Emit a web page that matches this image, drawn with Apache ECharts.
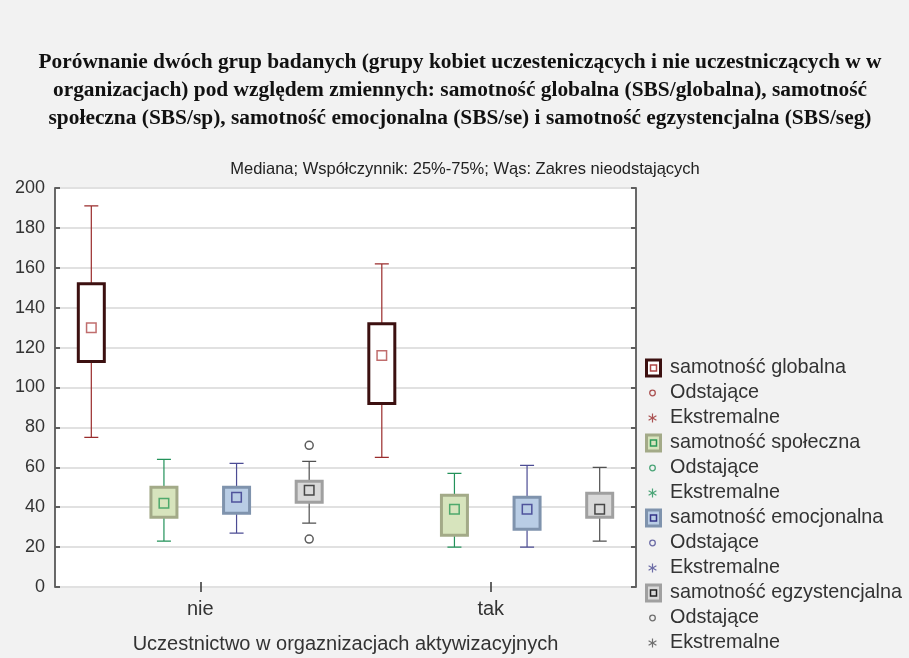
<!DOCTYPE html>
<html>
<head>
<meta charset="utf-8">
<script src="https://cdn.jsdelivr.net/npm/echarts@6/dist/echarts.min.js"></script>
<style>
  html, body { margin: 0; padding: 0; background: #f2f2f2; }
  #chart { width: 909px; height: 658px; }
</style>
</head>
<body>
<div id="chart"></div>
<script>
// ---- data ----
const categories = ['nie', 'tak'];
const varNames = ['samotność globalna', 'samotność społeczna', 'samotność emocjonalna', 'samotność egzystencjalna'];
// [min, Q1, median, Q3, max] for each category
const globalna = [[75, 113, 130, 152, 191], [65, 92, 116, 132, 162]];
const spoleczna = [[23, 35, 42, 50, 64], [20, 26, 39, 46, 57]];
const emocjonalna = [[27, 37, 45, 50, 62], [20, 29, 39, 45, 61]];
const egzystencjalna = [[32, 42.5, 48.5, 53, 63], [23, 35, 39, 47, 60]];
// outliers: [categoryIndex, value] (samotność egzystencjalna)
const outliersEgz = [[0, 71], [0, 24]];
const yTicks = { min: 0, max: 200, interval: 20 };
const titleText = 'Porównanie dwóch grup badanych (grupy kobiet uczesteniczących i nie uczestniczących w w\norganizacjach) pod względem zmiennych: samotność globalna (SBS/globalna), samotność\nspołeczna (SBS/sp), samotność emocjonalna (SBS/se) i samotność egzystencjalna (SBS/seg)';
const subtitleText = 'Mediana; Współczynnik: 25%-75%; Wąs: Zakres nieodstających';
const xName = 'Uczestnictwo w orgaznizacjach aktywizacyjnych';
const outlierLabel = 'Odstające';
const extremeLabel = 'Ekstremalne';

// ---- styles ----
const allStats = [globalna, spoleczna, emocjonalna, egzystencjalna];
const styles = [
  { fill: '#ffffff', border: '#3c1010', whisker: '#9a2c2c', median: '#b04848' },
  { fill: '#d7e4bd', border: '#a3aa88', whisker: '#23925a', median: '#2c9a58' },
  { fill: '#b9cde5', border: '#7f93ad', whisker: '#4c4c94', median: '#343488' },
  { fill: '#d9d9d9', border: '#a0a0a0', whisker: '#505050', median: '#222222' }
];
const nVar = varNames.length;
const slotNames = [];
categories.forEach((c, ci) => varNames.forEach((v, vi) => slotNames.push(c + '-' + vi)));

function svgIcon(inner) {
  return 'image://data:image/svg+xml;charset=utf-8,' + encodeURIComponent(
    '<svg xmlns="http://www.w3.org/2000/svg" width="17" height="20" viewBox="0 0 17 20">' + inner + '</svg>');
}
function boxIcon(s) {
  return svgIcon('<rect x="1.5" y="2" width="14" height="16" fill="' + s.fill + '" stroke="' + s.border + '" stroke-width="3"/>' +
    '<rect x="5.5" y="7" width="6" height="6" fill="none" stroke="' + s.median + '" stroke-width="1.5"/>');
}
function circleIcon(s) {
  return svgIcon('<circle cx="7.5" cy="10" r="2.8" fill="none" stroke="' + s.whisker + '" stroke-width="1.3"/>');
}
function starIcon(s) {
  return svgIcon('<g stroke="' + s.whisker + '" stroke-width="1.2" fill="none">' +
    '<line x1="7.5" y1="5.5" x2="7.5" y2="14.5"/><line x1="3.6" y1="7.7" x2="11.4" y2="12.3"/><line x1="3.6" y1="12.3" x2="11.4" y2="7.7"/></g>');
}

const series = [];
const xAxes = [
  {
    type: 'category', data: categories, gridIndex: 0, position: 'bottom', boundaryGap: true,
    axisLine: { show: false },
    axisTick: { show: true, inside: true, alignWithLabel: true, length: 5, lineStyle: { color: '#333', width: 1.5 } },
    axisLabel: { fontSize: 20, color: '#333', fontFamily: 'Liberation Sans', margin: 12 },
    name: xName, nameLocation: 'middle', nameGap: 47,
    nameTextStyle: { fontSize: 20, color: '#333', fontFamily: 'Liberation Sans' }
  },
  {
    type: 'category', data: categories, gridIndex: 0, position: 'top', boundaryGap: true,
    axisLine: { show: false },
    axisTick: { show: true, inside: true, alignWithLabel: true, length: 5, lineStyle: { color: '#333', width: 1.5 } },
    axisLabel: { show: false }
  }
];
function hiddenAxis() {
  xAxes.push({ type: 'category', data: slotNames, gridIndex: 0, boundaryGap: true, show: false });
  return xAxes.length - 1;
}

allStats.forEach((stats, vi) => {
  const s = styles[vi];
  const boxAxis = hiddenAxis();
  const whiskAxis = hiddenAxis();
  // whiskers
  series.push({
    name: varNames[vi] + ' (wąsy)', type: 'boxplot', xAxisIndex: whiskAxis, yAxisIndex: 0,
    encode: { x: 0, y: [1, 2, 3, 4, 5] }, silent: true, z: 2,
    boxWidth: [14, 14],
    data: stats.map((d, ci) => [ci * nVar + vi, d[0], d[1], d[1], d[3], d[4]]),
    itemStyle: { color: 'rgba(0,0,0,0)', borderColor: s.whisker, borderWidth: 1.2 },
    emphasis: { disabled: true }
  });
  // boxes
  series.push({
    name: varNames[vi], type: 'boxplot', xAxisIndex: boxAxis, yAxisIndex: 0,
    encode: { x: 0, y: [1, 2, 3, 4, 5] }, silent: true, z: 3,
    boxWidth: [26, 26],
    data: stats.map((d, ci) => [ci * nVar + vi, d[1], d[1], d[1], d[3], d[3]]),
    itemStyle: { color: s.fill, borderColor: s.border, borderWidth: 3 },
    emphasis: { disabled: true }
  });
  // median markers
  series.push({
    name: varNames[vi] + ' (mediana)', type: 'scatter', xAxisIndex: boxAxis, yAxisIndex: 0, silent: true, z: 4,
    symbol: 'rect', symbolSize: 9.5,
    data: stats.map((d, ci) => [ci * nVar + vi, d[2]]),
    itemStyle: { color: s.fill, borderColor: s.median, borderWidth: 1.5 }
  });
  if (vi === 3) {
    series.push({
      name: outlierLabel, type: 'scatter', xAxisIndex: boxAxis, yAxisIndex: 0, silent: true, z: 4,
      symbol: 'circle', symbolSize: 8,
      data: outliersEgz.map(o => [o[0] * nVar + vi, o[1]]),
      itemStyle: { color: '#ffffff', borderColor: '#333', borderWidth: 1.5 }
    });
    series.push({
      name: extremeLabel, type: 'scatter', xAxisIndex: boxAxis, yAxisIndex: 0, silent: true, data: []
    });
  }
});

const legends = styles.map((s, vi) => ({
  orient: 'vertical', left: 645, top: 358 + 75 * vi, padding: 0,
  itemWidth: 17, itemHeight: 20, itemGap: 5, selectedMode: false,
  textStyle: { fontSize: 19.8, color: '#333', fontFamily: 'Liberation Sans', padding: [0, 0, 0, 3] },
  data: [
    { name: varNames[vi], icon: boxIcon(s) },
    { name: outlierLabel, icon: circleIcon(s) },
    { name: extremeLabel, icon: starIcon(s) }
  ]
}));

const option = {
  backgroundColor: '#f2f2f2',
  animation: false,
  title: [
    {
      text: titleText, left: 460, top: 48, padding: 0, textAlign: 'center',
      textStyle: { fontFamily: 'Liberation Serif', fontWeight: 'bold', fontSize: 21.4, lineHeight: 28, color: '#111' }
    },
    {
      text: subtitleText, left: 460, top: 156, textAlign: 'center',
      textStyle: { fontFamily: 'Liberation Sans', fontWeight: 'normal', fontSize: 16.5, color: '#222' }
    }
  ],
  legend: legends,
  grid: {
    left: 55, right: 273, top: 188, bottom: 71,
    outerBoundsMode: 'none', containLabel: false,
    show: true, backgroundColor: '#ffffff', borderColor: '#454545', borderWidth: 1.6
  },
  xAxis: xAxes,
  yAxis: [
    {
      type: 'value', min: yTicks.min, max: yTicks.max, interval: yTicks.interval, position: 'left',
      axisLine: { show: false },
      axisTick: { show: true, inside: true, length: 5, lineStyle: { color: '#333', width: 1.5 } },
      axisLabel: { fontSize: 18, color: '#333', fontFamily: 'Liberation Sans', margin: 10 },
      splitLine: { show: true, lineStyle: { color: '#e1e1e1', width: 2 } }
    },
    {
      type: 'value', min: yTicks.min, max: yTicks.max, interval: yTicks.interval, position: 'right',
      axisLine: { show: false },
      axisTick: { show: true, inside: true, length: 5, lineStyle: { color: '#333', width: 1.5 } },
      axisLabel: { show: false },
      splitLine: { show: false }
    }
  ],
  series: series
};

const chart = echarts.init(document.getElementById('chart'), null, { renderer: 'canvas' });
chart.setOption(option);
</script>
</body>
</html>
